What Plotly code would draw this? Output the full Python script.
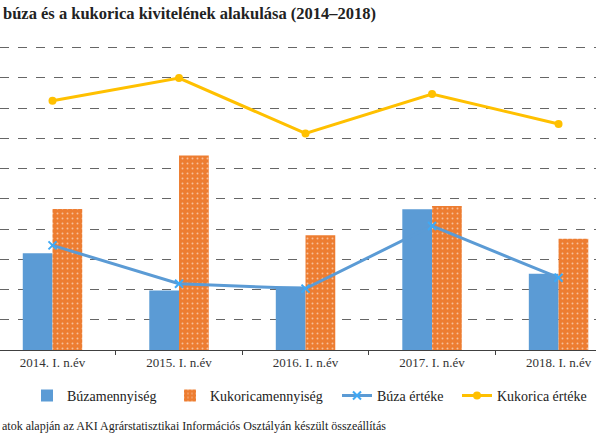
import plotly.graph_objects as go

categories = ["2014. I. n.év", "2015. I. n.év", "2016. I. n.év", "2017. I. n.év", "2018. I. n.év"]
buza_mennyiseg = [3.2, 1.97, 2.1, 4.65, 2.52]
kukorica_mennyiseg = [4.66, 6.43, 3.79, 4.76, 3.68]
buza_erteke = [3.46, 2.19, 2.03, 4.10, 2.39]
kukorica_erteke = [8.24, 8.99, 7.16, 8.46, 7.47]

title_text = "búza és a kukorica kivitelének alakulása (2014–2018)"
footnote_text = "atok alapján az AKI Agrárstatisztikai Információs Osztályán készült összeállítás"

SERIF = "Times New Roman, serif"

fig = go.Figure()
fig.add_trace(go.Bar(
    x=categories, y=buza_mennyiseg, name="Búzamennyiség", legend="legend",
    marker=dict(color="#5B9BD5", line=dict(width=0)),
))
fig.add_trace(go.Bar(
    x=categories, y=kukorica_mennyiseg, name="Kukoricamennyiség", legend="legend2",
    marker=dict(color="#ED7D31", line=dict(width=0),
                pattern=dict(shape=".", fgcolor="#F8C09A", bgcolor="#ED7D31",
                             size=5, solidity=0.12, fillmode="replace")),
))
fig.add_trace(go.Scatter(
    x=categories, y=buza_erteke, name="Búza értéke", mode="lines+markers", legend="legend3",
    line=dict(color="#5B9BD5", width=3),
    marker=dict(symbol="x-thin", size=8, color="#3FA9F5",
                line=dict(color="#3FA9F5", width=2)),
))
fig.add_trace(go.Scatter(
    x=categories, y=kukorica_erteke, name="Kukorica értéke", mode="lines+markers", legend="legend4",
    line=dict(color="#FFC000", width=3),
    marker=dict(symbol="circle", size=8, color="#FFC000"),
))

def leg(xpos):
    return dict(orientation="h", x=xpos, xanchor="left", y=-0.151, yanchor="middle",
                font=dict(family=SERIF, size=14, color="#222222"),
                bgcolor="rgba(0,0,0,0)")

fig.update_layout(
    width=596, height=447,
    margin=dict(l=0, r=0, t=46, b=97),
    paper_bgcolor="white", plot_bgcolor="white",
    barmode="group", bargap=0.53, bargroupgap=0,
    font=dict(family=SERIF, size=13, color="#333333"),
    title=dict(text=title_text, x=0.005, xanchor="left", xref="container",
               y=1 - 13 / 447, yref="container", yanchor="middle",
               font=dict(family=SERIF, size=16.5, color="#222222", weight="bold")),
    showlegend=True,
    legend=leg(27 / 596),
    legend2=leg(170 / 596),
    legend3=leg(337 / 596),
    legend4=leg(457 / 596),
    annotations=[dict(text=footnote_text, xref="paper", yref="paper",
                      x=0, xanchor="left", y=-(426 - 350) / 304, yanchor="middle",
                      showarrow=False,
                      font=dict(family=SERIF, size=12, color="#222222"))],
)
fig.update_xaxes(
    type="category", range=[-0.415, 4.296],
    showgrid=False, showline=True, linecolor="#404040", linewidth=1,
    ticks="outside", tickson="boundaries", ticklen=4, tickcolor="#404040",
    tickfont=dict(family=SERIF, size=13, color="#333333"),
)
fig.update_yaxes(
    range=[0, 10.05], dtick=1, showticklabels=False, zeroline=False,
    showgrid=True, gridcolor="#666666", gridwidth=1.3, griddash="dash",
)

fig.write_html("out.html")
